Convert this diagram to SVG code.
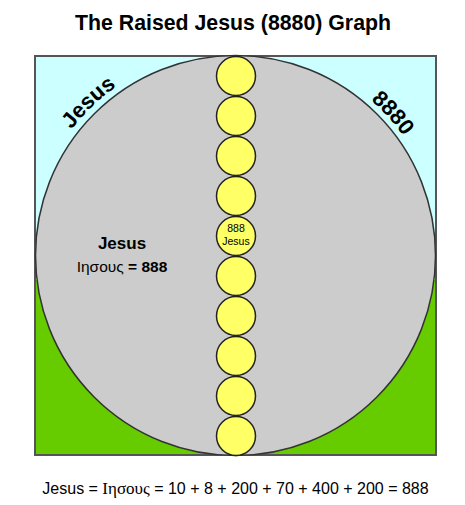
<svg xmlns="http://www.w3.org/2000/svg" width="465" height="505" viewBox="0 0 465 505">
<style>
.t{font-family:"Liberation Sans",Arial,sans-serif;fill:#000}
.b{font-weight:bold}
.y{fill:#ffff66;stroke:#222;stroke-width:1.5}
</style>
<defs>
<path id="arc" d="M 29 255 A 206 206 0 0 1 441 255"/>
</defs>
<rect width="465" height="505" fill="#fff"/>
<text class="t b" x="233" y="30" font-size="21.3" text-anchor="middle">The Raised Jesus (8880) Graph</text>
<g id="background">
<rect x="35" y="56" width="401" height="399" fill="#ccffff"/>
<rect x="35" y="280" width="401" height="175" fill="#66cc00"/>
<rect x="35" y="56" width="401" height="399" fill="none" stroke="#555" stroke-width="2"/>
</g>
<g id="big-circle">
<circle cx="235.5" cy="255.5" r="200" fill="#cccccc" stroke="#333" stroke-width="1.5"/>
</g>
<g id="arc-labels">
<text class="t b" font-size="22" text-anchor="middle"><textPath href="#arc" startOffset="166">Jesus</textPath></text>
<text class="t b" font-size="22" text-anchor="middle"><textPath href="#arc" startOffset="496">8880</textPath></text>
</g>
<g id="label">
<text class="t b" x="122" y="249" font-size="17" text-anchor="middle">Jesus</text>
<text class="t" x="122" y="272" font-size="15.5" text-anchor="middle">Ιησους <tspan class="b">= 888</tspan></text>
</g>
<g id="chain">
<g id="c1"><circle class="y" cx="236" cy="76" r="19.5"/></g>
<g id="c2"><circle class="y" cx="236" cy="116" r="19.5"/></g>
<g id="c3"><circle class="y" cx="236" cy="156" r="19.5"/></g>
<g id="c4"><circle class="y" cx="236" cy="196" r="19.5"/></g>
<g id="c5"><circle class="y" cx="236" cy="236" r="19.5"/>
<text class="t" x="236" y="232" font-size="10.5" text-anchor="middle" fill="#333">888</text>
<text class="t" x="236" y="245" font-size="10.5" text-anchor="middle" fill="#333">Jesus</text></g>
<g id="c6"><circle class="y" cx="236" cy="276" r="19.5"/></g>
<g id="c7"><circle class="y" cx="236" cy="316" r="19.5"/></g>
<g id="c8"><circle class="y" cx="236" cy="356" r="19.5"/></g>
<g id="c9"><circle class="y" cx="236" cy="396" r="19.5"/></g>
<g id="c10"><circle class="y" cx="236" cy="436" r="19.5"/></g>
</g>
<g id="connectors"></g>
<text class="t" x="235.5" y="494" font-size="16" text-anchor="middle">Jesus = <tspan font-family="'Liberation Serif',serif" font-size="17">Ιησους</tspan> = 10 + 8 + 200 + 70 + 400 + 200 = 888</text>
</svg>
